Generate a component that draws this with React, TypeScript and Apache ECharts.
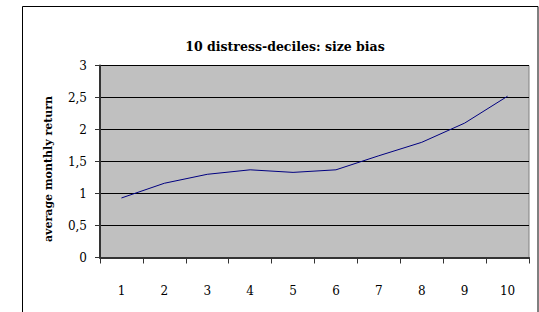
import React, { useEffect, useRef } from "react";
import * as echarts from "echarts";

const categories = ["1", "2", "3", "4", "5", "6", "7", "8", "9", "10"];
const returns = [0.93, 1.16, 1.3, 1.37, 1.33, 1.37, 1.59, 1.8, 2.1, 2.52];
const titleText = "10 distress-deciles: size bias";
const yAxisName = "average monthly return";

const FONT = "DejaVu Serif";

export default function App() {
  const ref = useRef<HTMLDivElement>(null);
  useEffect(() => {
    if (!ref.current) return;
    const chart = echarts.init(ref.current, null, { renderer: "svg" });
    chart.setOption({
      animation: false,
      backgroundColor: "#ffffff",
      title: {
        text: titleText,
        left: 280,
        textAlign: "center",
        top: 35,
        textStyle: { fontFamily: FONT, fontWeight: "bold", fontSize: 12.5, color: "#000" },
      },
      grid: {
        left: 100,
        top: 65.5,
        width: 429,
        height: 192,
        show: true,
        backgroundColor: "#c0c0c0",
        borderColor: "#808080",
        borderWidth: 1,
      },
      xAxis: {
        type: "category",
        data: categories,
        boundaryGap: true,
        axisLine: { show: true, lineStyle: { color: "#333", width: 2 } },
        axisTick: { show: true, length: 6, lineStyle: { color: "#333", width: 1 } },
        axisLabel: { margin: 27, fontFamily: FONT, fontSize: 12, color: "#000" },
        splitLine: { show: false },
      },
      yAxis: {
        type: "value",
        min: 0,
        max: 3,
        interval: 0.5,
        axisLine: { show: true, lineStyle: { color: "#333", width: 2 } },
        axisTick: { show: true, length: 5, lineStyle: { color: "#333", width: 1 } },
        axisLabel: {
          margin: 13,
          fontFamily: FONT,
          fontSize: 12,
          color: "#000",
          formatter: (v: number) => String(v).replace(".", ","),
        },
        splitLine: { show: true, lineStyle: { color: "#000", width: 1 } },
      },
      series: [
        {
          type: "line",
          data: returns,
          symbol: "none",
          lineStyle: { color: "#000080", width: 1 },
        },
      ],
      graphic: [
        {
          type: "rect",
          shape: { x: 22.5, y: 6.5, width: 515.5, height: 330 },
          style: { fill: "none", stroke: "#000", lineWidth: 1 },
          silent: true,
        },
        {
          type: "text",
          x: 48,
          y: 169,
          rotation: Math.PI / 2,
          style: {
            text: yAxisName,
            fontFamily: FONT,
            fontWeight: "bold",
            fontSize: 11,
            fill: "#000",
            textAlign: "center",
            textVerticalAlign: "middle",
          },
        },
      ],
    });
    return () => chart.dispose();
  }, []);
  return (
    <div
      ref={ref}
      style={{ position: "fixed", left: 0, top: 0, width: 539, height: 312 }}
    />
  );
}
